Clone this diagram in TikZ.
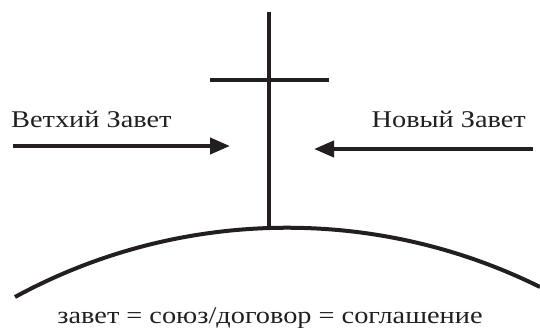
\documentclass[tikz,border=0pt]{standalone}
\usepackage{fontspec}
\setmainfont{Liberation Serif}[FakeStretch=1.18]
\usepackage{xcolor}
\usetikzlibrary{arrows.meta}
\definecolor{InkBlack}{RGB}{35,31,32}

\begin{document}
\begin{tikzpicture}[x=1pt,y=-1pt,
    heavy/.style={draw=InkBlack, line width=4pt},
    pointer/.style={heavy, -{Triangle[length=20pt,width=16pt]}},
    covtext/.style={font=\fontsize{24}{28}\selectfont, text=InkBlack, inner sep=0pt}]
  \useasboundingbox (0,0) rectangle (540,328);
  % cross
  \coordinate (crosstop) at (269,12);
  \coordinate (crossfoot) at (269,229);
  \coordinate (barleft) at (210,80);
  \coordinate (barright) at (329,80);
  \draw[heavy] (crosstop) -- (crossfoot);
  \draw[heavy] (barleft) -- (barright);
  % ground
  \coordinate (groundleft) at (15,297);
  \coordinate (groundright) at (540,287);
  \draw[heavy] (groundleft) .. controls (177.7,208.3) and (374,204.6) .. (groundright);
  % the two testaments
  \node[covtext, anchor=base west] (oldname) at (11,128) {Ветхий Завет};
  \node[covtext, anchor=base east] (newname) at (526,128) {Новый Завет};
  \coordinate (oldstart) at (13,146);
  \coordinate (oldend) at (230,146);
  \coordinate (newstart) at (533,149);
  \coordinate (newend) at (314,149);
  \draw[pointer] (oldstart) -- (oldend);
  \draw[pointer] (newstart) -- (newend);
  \node[covtext, anchor=base] (meaning) at (270,323) {завет = союз/договор = соглашение};
\end{tikzpicture}
\end{document}
